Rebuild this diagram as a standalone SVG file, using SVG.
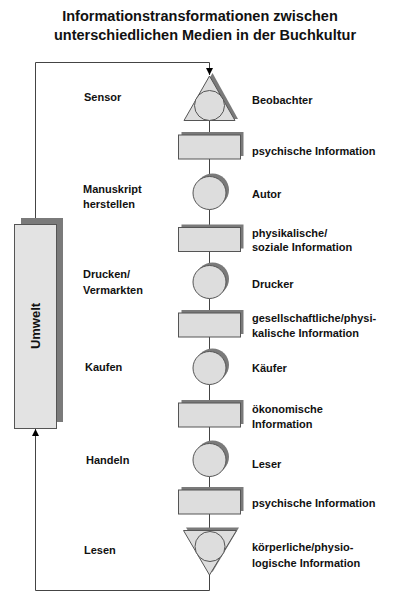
<svg xmlns="http://www.w3.org/2000/svg" width="413" height="600" viewBox="0 0 413 600">
<style>
  text { font-family: "Liberation Sans", Arial, sans-serif; font-weight: bold; fill: #111; }
  .title { font-size: 14.5px; text-anchor: middle; }
  .lbl { font-size: 11px; }
  .shape { fill: #dddddd; stroke: #555; stroke-width: 1; }
  .shadow { fill: #7a7a7a; stroke: none; }
  .conn { fill: none; stroke: #444; stroke-width: 1; }
</style>
<defs>
  <marker id="arr" markerWidth="8" markerHeight="8" refX="7" refY="4" orient="auto" markerUnits="userSpaceOnUse">
    <path d="M0,0.5 L7,4 L0,7.5 Z" fill="#000"/>
  </marker>
</defs>
<rect width="413" height="600" fill="#fff"/>

<g id="title">
  <text class="title" x="200" y="21">Informationstransformationen zwischen</text>
  <text class="title" x="205" y="40">unterschiedlichen Medien in der Buchkultur</text>
</g>

<g id="connectors">
  <path class="conn" d="M35.5,224 V62.5 H209.5 V75" marker-end="url(#arr)"/>
  <path class="conn" d="M209.5,575 V590.5 H35.5 V429" marker-end="url(#arr)"/>
  <path class="conn" d="M209.5,121 V135"/>
  <path class="conn" d="M209.5,159 V176.5"/>
  <path class="conn" d="M209.5,209.5 V227.5"/>
  <path class="conn" d="M209.5,251.5 V265.5"/>
  <path class="conn" d="M209.5,298.5 V313"/>
  <path class="conn" d="M209.5,337 V351.5"/>
  <path class="conn" d="M209.5,384.5 V403"/>
  <path class="conn" d="M209.5,427 V443.5"/>
  <path class="conn" d="M209.5,476.5 V490"/>
  <path class="conn" d="M209.5,514 V530.5"/>
</g>

<g id="umwelt">
  <rect class="shadow" x="21" y="218" width="42" height="204"/>
  <rect class="shape" x="14.5" y="224.5" width="42" height="204" fill="#e3e3e3" style="fill:#e3e3e3"/>
  <text transform="translate(40,326) rotate(-90)" style="font-size:13px;text-anchor:middle">Umwelt</text>
</g>

<g id="beobachter">
  <polygon class="shadow" points="212.5,73 238,119 187,119"/>
  <polygon class="shape" points="209.5,76 235,120.5 184,120.5"/>
  <circle class="shape" cx="209.5" cy="105.5" r="15"/>
  <text class="lbl" x="84" y="101">Sensor</text>
  <text class="lbl" x="252" y="104">Beobachter</text>
</g>

<g id="info1">
  <rect class="shadow" x="181.5" y="132" width="62" height="24"/>
  <rect class="shape" x="178.5" y="135" width="62" height="24"/>
  <text class="lbl" x="252" y="155">psychische Information</text>
</g>

<g id="autor">
  <circle class="shadow" cx="212.5" cy="190" r="16.5"/>
  <circle class="shape" cx="209.5" cy="193" r="16.5"/>
  <text class="lbl" x="83" y="192.5">Manuskript</text>
  <text class="lbl" x="83" y="207.5">herstellen</text>
  <text class="lbl" x="252" y="198">Autor</text>
</g>

<g id="info2">
  <rect class="shadow" x="181.5" y="224.5" width="62" height="24"/>
  <rect class="shape" x="178.5" y="227.5" width="62" height="24"/>
  <text class="lbl" x="252" y="237">physikalische/</text>
  <text class="lbl" x="252" y="250.5">soziale Information</text>
</g>

<g id="drucker">
  <circle class="shadow" cx="212.5" cy="279" r="16.5"/>
  <circle class="shape" cx="209.5" cy="282" r="16.5"/>
  <text class="lbl" x="83" y="278">Drucken/</text>
  <text class="lbl" x="83" y="293.5">Vermarkten</text>
  <text class="lbl" x="252" y="288">Drucker</text>
</g>

<g id="info3">
  <rect class="shadow" x="181.5" y="310" width="62" height="24"/>
  <rect class="shape" x="178.5" y="313" width="62" height="24"/>
  <text class="lbl" x="252" y="322">gesellschaftliche/physi-</text>
  <text class="lbl" x="252" y="337">kalische Information</text>
</g>

<g id="kaeufer">
  <circle class="shadow" cx="212.5" cy="365" r="16.5"/>
  <circle class="shape" cx="209.5" cy="368" r="16.5"/>
  <text class="lbl" x="85" y="371">Kaufen</text>
  <text class="lbl" x="252" y="372">Käufer</text>
</g>

<g id="info4">
  <rect class="shadow" x="181.5" y="400" width="62" height="24"/>
  <rect class="shape" x="178.5" y="403" width="62" height="24"/>
  <text class="lbl" x="252" y="413">ökonomische</text>
  <text class="lbl" x="252" y="428">Information</text>
</g>

<g id="leser">
  <circle class="shadow" cx="212.5" cy="457" r="16.5"/>
  <circle class="shape" cx="209.5" cy="460" r="16.5"/>
  <text class="lbl" x="86" y="464">Handeln</text>
  <text class="lbl" x="252" y="468">Leser</text>
</g>

<g id="info5">
  <rect class="shadow" x="181.5" y="487" width="62" height="24"/>
  <rect class="shape" x="178.5" y="490" width="62" height="24"/>
  <text class="lbl" x="252" y="507">psychische Information</text>
</g>

<g id="koerper">
  <polygon class="shadow" points="186,527.5 239,527.5 212.5,572"/>
  <polygon class="shape" points="183.5,530.5 236.5,530.5 209.5,575"/>
  <circle class="shape" cx="210" cy="546.5" r="15"/>
  <text class="lbl" x="84" y="554">Lesen</text>
  <text class="lbl" x="252" y="551">körperliche/physio-</text>
  <text class="lbl" x="252" y="567">logische Information</text>
</g>
</svg>
